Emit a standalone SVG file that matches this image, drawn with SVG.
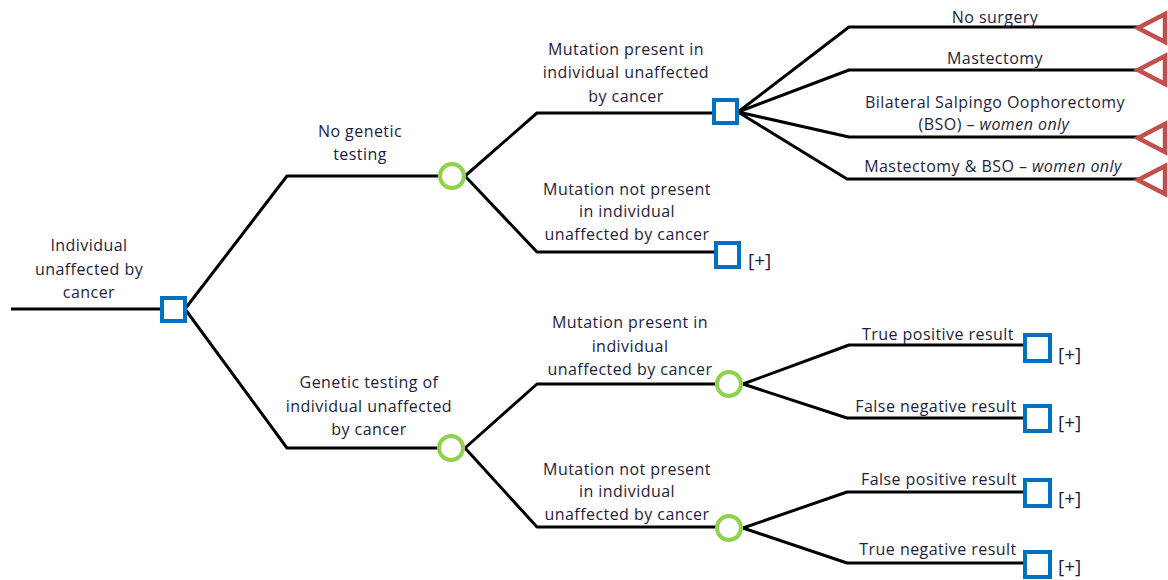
<svg xmlns="http://www.w3.org/2000/svg" width="1168" height="580" viewBox="0 0 1168 580">
  <style>
    .ln { fill: none; stroke: #000; stroke-width: 3; stroke-linejoin: round; }
    .dec { fill: #fff; stroke: #0070C0; stroke-width: 4; }
    .chn { fill: #fff; stroke: #92D050; stroke-width: 4; }
    .end { fill: #fff; stroke: #C0504D; stroke-width: 4.5; stroke-linejoin: miter; }
    text { font-family: "Open Sans", "Liberation Sans", sans-serif; font-size: 16px; fill: #1E1D40; letter-spacing: 0.45px; }
    .c { text-anchor: middle; }
    .i { font-style: italic; }
    .p { font-size: 19px; letter-spacing: 0; }
  </style>
  <rect width="1168" height="580" fill="#fff"/>

  <g id="connectors">
    <polyline class="ln" points="11,309 162,309"/>
    <polyline class="ln" points="185,309 287,176 438,176"/>
    <polyline class="ln" points="185,309 287,448 438,448"/>
    <polyline class="ln" points="465,176 537,113 713,113"/>
    <polyline class="ln" points="465,176 537,252 715,252"/>
    <polyline class="ln" points="738,112 849,27 1138,27"/>
    <polyline class="ln" points="738,112 849,70 1138,70"/>
    <polyline class="ln" points="738,112 849,137 1138,137"/>
    <polyline class="ln" points="738,112 847,179 1138,179"/>
    <polyline class="ln" points="465,448 537,384 716,384"/>
    <polyline class="ln" points="465,448 537,527 716,527"/>
    <polyline class="ln" points="743,384 849,345 1024,345"/>
    <polyline class="ln" points="743,384 847,418 1024,418"/>
    <polyline class="ln" points="743,528 847,492 1024,492"/>
    <polyline class="ln" points="743,528 847,563 1024,563"/>
  </g>

  <g id="root">
    <rect class="dec" x="162" y="298" width="23" height="23"/>
    <text class="c" x="89" y="251">Individual</text>
    <text class="c" x="89" y="275">unaffected by</text>
    <text class="c" x="89" y="298">cancer</text>
  </g>

  <g id="no-testing">
    <circle class="chn" cx="452" cy="176" r="12"/>
    <text class="c" x="360" y="137">No genetic</text>
    <text class="c" x="360" y="160">testing</text>
  </g>

  <g id="nt-mutation-present">
    <rect class="dec" x="714" y="100" width="23" height="23"/>
    <text class="c" x="626" y="55">Mutation present in</text>
    <text class="c" x="626" y="78">individual unaffected</text>
    <text class="c" x="626" y="102">by cancer</text>
  </g>

  <g id="nt-mutation-absent">
    <rect class="dec" x="716" y="243" width="23" height="24"/>
    <text class="c" x="627" y="195">Mutation not present</text>
    <text class="c" x="627" y="217">in individual</text>
    <text class="c" x="627" y="240">unaffected by cancer</text>
    <text class="p" x="748" y="267">[+]</text>
  </g>

  <g id="outcome-no-surgery">
    <polygon class="end" points="1138,28 1165,14 1165,42"/>
    <text class="c" x="995" y="23">No surgery</text>
  </g>
  <g id="outcome-mastectomy">
    <polygon class="end" points="1138,70 1165,56 1165,84"/>
    <text class="c" x="995" y="64">Mastectomy</text>
  </g>
  <g id="outcome-bso">
    <polygon class="end" points="1138,138 1165,124 1165,152"/>
    <text class="c" x="995" y="108">Bilateral Salpingo Oophorectomy</text>
    <text class="c" x="994" y="130">(BSO) – <tspan class="i">women only</tspan></text>
  </g>
  <g id="outcome-mastectomy-bso">
    <polygon class="end" points="1138,180 1165,166 1165,194"/>
    <text class="c" x="993" y="172">Mastectomy &amp; BSO – <tspan class="i">women only</tspan></text>
  </g>

  <g id="genetic-testing">
    <circle class="chn" cx="451" cy="448" r="12"/>
    <text class="c" x="369" y="388">Genetic testing of</text>
    <text class="c" x="369" y="412">individual unaffected</text>
    <text class="c" x="369" y="435">by cancer</text>
  </g>

  <g id="gt-mutation-present">
    <circle class="chn" cx="729" cy="384" r="12"/>
    <text class="c" x="630" y="328">Mutation present in</text>
    <text class="c" x="630" y="352">individual</text>
    <text class="c" x="630" y="375">unaffected by cancer</text>
  </g>

  <g id="gt-mutation-absent">
    <circle class="chn" cx="729" cy="528" r="12"/>
    <text class="c" x="627" y="475">Mutation not present</text>
    <text class="c" x="627" y="497">in individual</text>
    <text class="c" x="627" y="520">unaffected by cancer</text>
  </g>

  <g id="true-positive">
    <rect class="dec" x="1025" y="335" width="25" height="26"/>
    <text class="c" x="938" y="340">True positive result</text>
    <text class="p" x="1058" y="361">[+]</text>
  </g>
  <g id="false-negative">
    <rect class="dec" x="1025" y="406" width="25" height="25"/>
    <text class="c" x="936" y="412">False negative result</text>
    <text class="p" x="1058" y="429">[+]</text>
  </g>
  <g id="false-positive">
    <rect class="dec" x="1025" y="480" width="25" height="26"/>
    <text class="c" x="939" y="485">False positive result</text>
    <text class="p" x="1058" y="505">[+]</text>
  </g>
  <g id="true-negative">
    <rect class="dec" x="1025" y="552" width="25" height="25"/>
    <text class="c" x="938" y="555">True negative result</text>
    <text class="p" x="1058" y="573">[+]</text>
  </g>
</svg>
